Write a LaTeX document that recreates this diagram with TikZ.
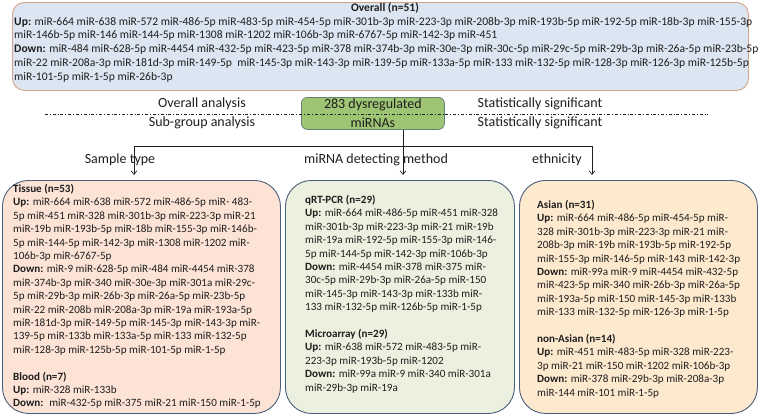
\documentclass[tikz,border=0pt]{standalone}
\usepackage{fontspec}
\setmainfont{Carlito}
\usetikzlibrary{arrows.meta, positioning, calc}
\definecolor{overallfill}{RGB}{220,230,242}
\definecolor{overallline}{RGB}{214,162,136}
\definecolor{hubfill}{RGB}{158,197,116}
\definecolor{hubline}{RGB}{100,130,120}
\definecolor{tissuefill}{RGB}{252,227,213}
\definecolor{methodfill}{RGB}{235,241,222}
\definecolor{ethnicfill}{RGB}{253,233,206}
\definecolor{panelline}{RGB}{74,94,122}
\definecolor{inkgray}{RGB}{30,30,30}

\tikzset{
  panel/.style={draw=panelline, line width=0.9pt, rounded corners=26pt, anchor=north west, inner sep=0pt, minimum height=233},
  mirlist/.style={anchor=north west, align=left, inner sep=0pt, text=inkgray, font=\fontsize{11.1}{13.4}\selectfont},
  tag/.style={inner sep=0pt, text=inkgray, font=\fontsize{14}{16}\selectfont},
  wire/.style={draw=inkgray, line width=0.7pt},
  branch/.style={wire, -{Straight Barb[length=3.5pt, width=5.5pt]}}
}

\begin{document}
\begin{tikzpicture}[x=1pt, y=-1pt]
\useasboundingbox (0,0) rectangle (760,416);

% overall result
\node[panel, draw=overallline, fill=overallfill, rounded corners=12pt, minimum width=736, minimum height=88] (overall) at (12,2) {};
\node[mirlist, anchor=north, font=\fontsize{11.6}{13.8}\selectfont\bfseries] (overalltitle) at (385,3) {Overall (n=51)};
\node[mirlist, font=\fontsize{11.6}{13.8}\selectfont] (overallmir) at (14,16.8) {\textbf{Up:} miR-664 miR-638 miR-572 miR-486-5p miR-483-5p miR-454-5p miR-301b-3p miR-223-3p miR-208b-3p miR-193b-5p miR-192-5p miR-18b-3p miR-155-3p\\
miR-146b-5p miR-146 miR-144-5p miR-1308 miR-1202 miR-106b-3p miR-6767-5p miR-142-3p miR-451\\
\textbf{Down:} miR-484 miR-628-5p miR-4454 miR-432-5p miR-423-5p miR-378 miR-374b-3p miR-30e-3p miR-30c-5p miR-29c-5p miR-29b-3p miR-26a-5p miR-23b-5p\\
miR-22 miR-208a-3p miR-181d-3p miR-149-5p \ miR-145-3p miR-143-3p miR-139-5p miR-133a-5p miR-133 miR-132-5p miR-128-3p miR-126-3p miR-125b-5p\\
miR-101-5p miR-1-5p miR-26b-3p};

% hub and analysis levels
\node[draw=hubline, fill=hubfill, rounded corners=6pt, line width=0.8pt, minimum width=143, minimum height=32, anchor=north west, inner sep=0pt] (hub) at (301,97) {};
\node[tag, align=center, font=\fontsize{14}{19}\selectfont] (hubtext) at (hub.center) {283 dysregulated\\miRNAs};
\node[tag] (overallan) at (202,104) {Overall analysis};
\node[tag] (subgroupan) at (202,123) {Sub-group analysis};
\node[tag] (overallsig) at (540,104) {Statistically significant};
\node[tag] (subgroupsig) at (540,123) {Statistically significant};
\coordinate (levelL) at (45,114);
\coordinate (levelR) at (708,114);
\draw[wire, dash dot, line width=0.6pt] (levelL) -- (levelR);

% branches
\coordinate (forkL) at (134,146);
\coordinate (forkM) at (403,146);
\coordinate (forkR) at (592,146);
\coordinate (tipL) at (134,175);
\coordinate (tipM) at (403,175);
\coordinate (tipR) at (592,175);
\draw[wire] (forkL) -- (forkR);
\draw[branch] (forkM |- hub.south) -- (tipM);
\draw[branch] (forkL) -- (tipL);
\draw[branch] (forkR) -- (tipR);
\node[tag] (sampletag) at (120,160) {Sample type};
\node[tag] (methodtag) at (376,160) {miRNA detecting method};
\node[tag] (ethnictag) at (557,160) {ethnicity};

% sample type panel
\node[panel, fill=tissuefill, minimum width=278] (sample) at (2,180) {};
\node[mirlist] (tissuemir) at (13,184) {\textbf{Tissue (n=53)}\\
\textbf{Up:} miR-664 miR-638 miR-572 miR-486-5p miR- 483-\\
5p miR-451 miR-328 miR-301b-3p miR-223-3p miR-21\\
miR-19b miR-193b-5p miR-18b miR-155-3p miR-146b-\\
5p miR-144-5p miR-142-3p miR-1308 miR-1202 miR-\\
106b-3p miR-6767-5p\\
\textbf{Down:} miR-9 miR-628-5p miR-484 miR-4454 miR-378\\
miR-374b-3p miR-340 miR-30e-3p miR-301a miR-29c-\\
5p miR-29b-3p miR-26b-3p miR-26a-5p miR-23b-5p\\
miR-22 miR-208b miR-208a-3p miR-19a miR-193a-5p\\
miR-181d-3p miR-149-5p miR-145-3p miR-143-3p miR-\\
139-5p miR-133b miR-133a-5p miR-133 miR-132-5p\\
miR-128-3p miR-125b-5p miR-101-5p miR-1-5p\\[13.4pt]
\textbf{Blood (n=7)}\\
\textbf{Up:} miR-328 miR-133b\\
\textbf{Down:} \ miR-432-5p miR-375 miR-21 miR-150 miR-1-5p};

% detecting method panel
\node[panel, fill=methodfill, minimum width=229] (method) at (285,180) {};
\node[mirlist] (methodmir) at (305,195) {\textbf{qRT-PCR (n=29)}\\
\textbf{Up:} miR-664 miR-486-5p miR-451 miR-328\\
miR-301b-3p miR-223-3p miR-21 miR-19b\\
miR-19a miR-192-5p miR-155-3p miR-146-\\
5p miR-144-5p miR-142-3p miR-106b-3p\\
\textbf{Down:} miR-4454 miR-378 miR-375 miR-\\
30c-5p miR-29b-3p miR-26a-5p miR-150\\
miR-145-3p miR-143-3p miR-133b miR-\\
133 miR-132-5p miR-126b-5p miR-1-5p\\[13.4pt]
\textbf{Microarray (n=29)}\\
\textbf{Up:} miR-638 miR-572 miR-483-5p miR-\\
223-3p miR-193b-5p miR-1202\\
\textbf{Down:} miR-99a miR-9 miR-340 miR-301a\\
miR-29b-3p miR-19a};

% ethnicity panel
\node[panel, fill=ethnicfill, minimum width=238] (ethnic) at (519,180) {};
\node[mirlist] (ethnicmir) at (537,200) {\textbf{Asian (n=31)}\\
\textbf{Up:} miR-664 miR-486-5p miR-454-5p miR-\\
328 miR-301b-3p miR-223-3p miR-21 miR-\\
208b-3p miR-19b miR-193b-5p miR-192-5p\\
miR-155-3p miR-146-5p miR-143 miR-142-3p\\
\textbf{Down:} miR-99a miR-9 miR-4454 miR-432-5p\\
miR-423-5p miR-340 miR-26b-3p miR-26a-5p\\
miR-193a-5p miR-150 miR-145-3p miR-133b\\
miR-133 miR-132-5p miR-126-3p miR-1-5p\\[13.4pt]
\textbf{non-Asian (n=14)}\\
\textbf{Up:} miR-451 miR-483-5p miR-328 miR-223-\\
3p miR-21 miR-150 miR-1202 miR-106b-3p\\
\textbf{Down:} miR-378 miR-29b-3p miR-208a-3p\\
miR-144 miR-101 miR-1-5p};
\end{tikzpicture}
\end{document}
